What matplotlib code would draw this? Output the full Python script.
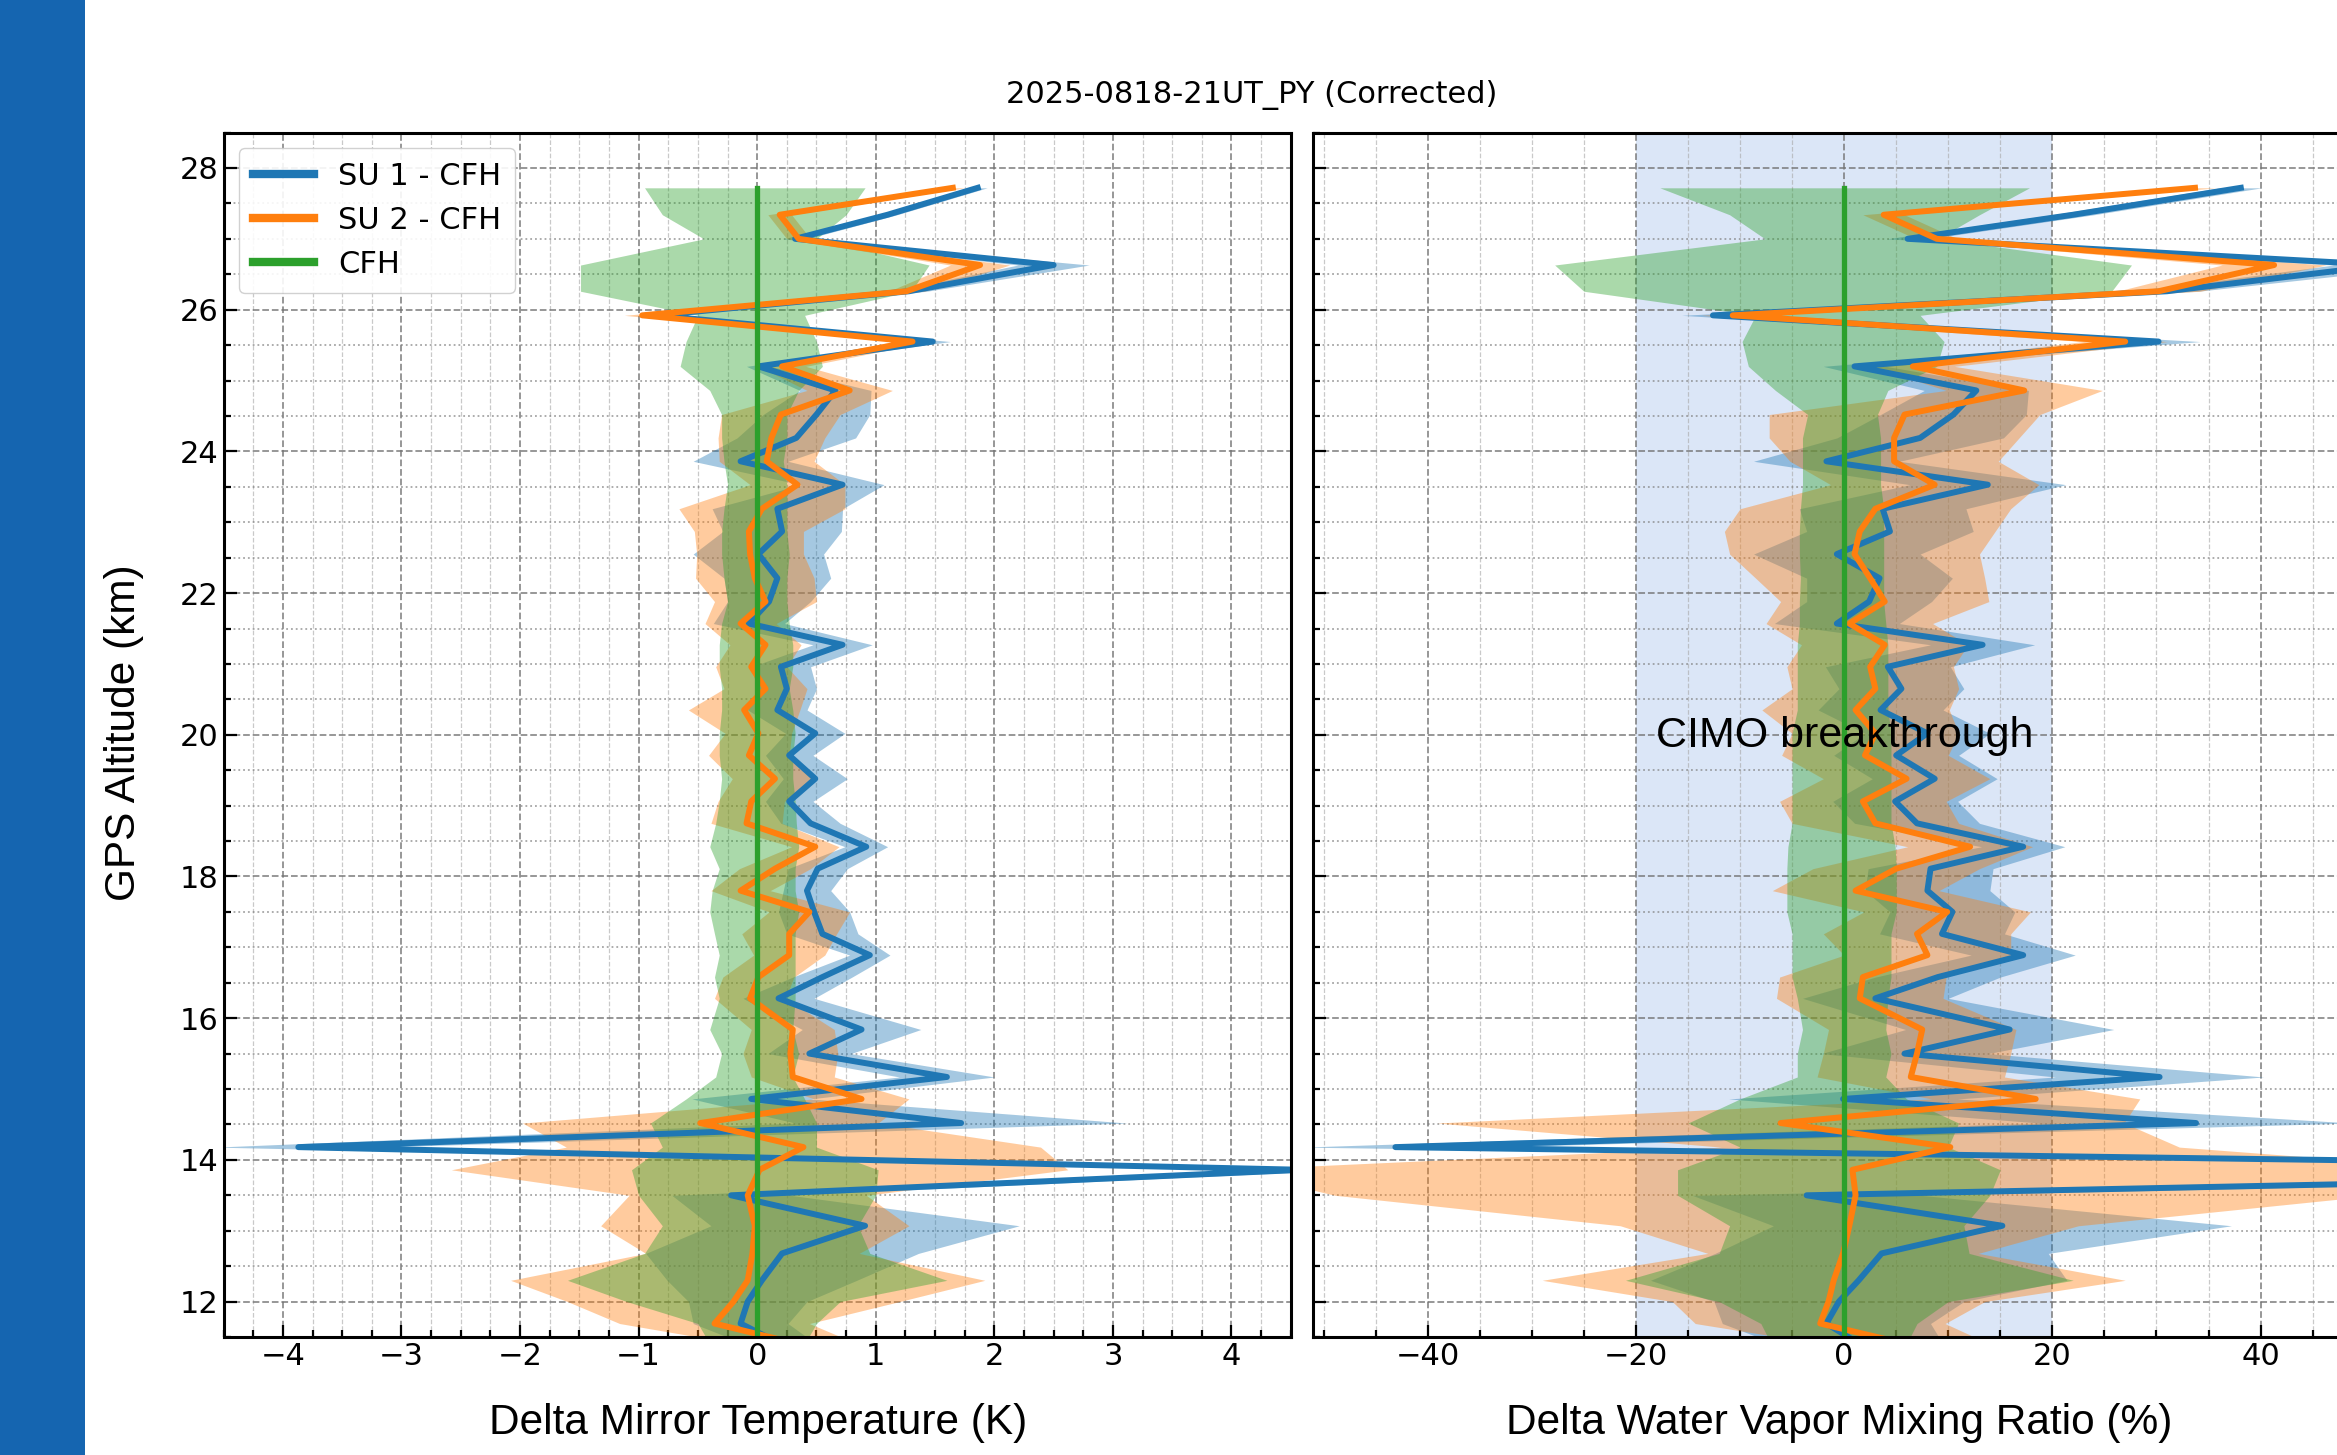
import numpy as np
import matplotlib
matplotlib.use("Agg")
import matplotlib.pyplot as plt
from matplotlib.patches import Rectangle
from matplotlib.ticker import MultipleLocator

# altitude levels (km), top -> bottom
alt = [27.72, 27.34, 27.00, 26.63, 26.26, 25.92, 25.55, 25.20, 24.86, 24.52,
       24.19, 23.86, 23.53, 23.19, 22.87, 22.55, 22.21, 21.88, 21.57, 21.27,
       20.96, 20.65, 20.35, 20.02, 19.71, 19.38, 19.06, 18.75, 18.42, 18.11,
       17.80, 17.50, 17.19, 16.89, 16.58, 16.28, 15.84, 15.50, 15.17, 14.86,
       14.52, 14.18, 13.86, 13.50, 13.07, 12.68, 12.30, 12.00, 11.69, 11.40]

# delta mirror temperature (K)
dt_su1 = [1.86, 1.10, 0.32, 2.50, 1.28, -0.85, 1.48, 0.01, 0.66, 0.50,
          0.33, -0.14, 0.72, 0.17, 0.21, 0.01, 0.17, 0.10, -0.07, 0.72,
          0.20, 0.25, 0.17, 0.49, 0.27, 0.49, 0.27, 0.45, 0.92, 0.51,
          0.42, 0.48, 0.55, 0.95, 0.55, 0.18, 0.88, 0.44, 1.60, -0.05,
          1.72, -3.87, 4.60, -0.22, 0.91, 0.21, 0.04, -0.08, -0.14, 0.20]
dt_su1_err = [0.08, 0.08, 0.10, 0.30, 0.15, 0.10, 0.15, 0.10, 0.30, 0.45,
              0.50, 0.40, 0.35, 0.55, 0.50, 0.55, 0.45, 0.35, 0.30, 0.25,
              0.25, 0.25, 0.25, 0.25, 0.20, 0.27, 0.20, 0.25, 0.18, 0.25,
              0.20, 0.30, 0.30, 0.17, 0.25, 0.30, 0.50, 0.35, 0.40, 0.50,
              1.40, 0.70, 0.40, 0.50, 1.30, 1.15, 0.80, 0.50, 0.40, 0.30]
dt_su2 = [1.65, 0.19, 0.35, 1.88, 1.26, -0.97, 1.31, 0.21, 0.78, 0.20,
          0.12, 0.08, 0.34, 0.04, -0.07, -0.06, -0.02, 0.07, -0.14, 0.07,
          -0.05, 0.07, -0.11, 0.01, -0.07, 0.15, -0.05, -0.09, 0.49, 0.15,
          -0.14, 0.44, 0.27, 0.27, 0.01, -0.06, 0.30, 0.28, 0.30, 0.88,
          -0.48, 0.39, 0.02, -0.08, -0.02, -0.04, -0.08, -0.20, -0.36, 0.35]
dt_su2_err = [0.10, 0.10, 0.10, 0.25, 0.15, 0.15, 0.15, 0.20, 0.36, 0.50,
              0.45, 0.40, 0.40, 0.70, 0.46, 0.45, 0.50, 0.43, 0.30, 0.30,
              0.30, 0.35, 0.47, 0.28, 0.34, 0.36, 0.28, 0.30, 0.20, 0.30,
              0.25, 0.34, 0.40, 0.30, 0.30, 0.30, 0.35, 0.40, 0.35, 0.40,
              1.50, 2.00, 2.60, 1.00, 1.30, 0.90, 2.00, 1.40, 0.80, 0.50]
dt_cfh_lo = [-0.95, -0.80, -0.45, -1.49, -1.49, -0.50, -0.60, -0.65, -0.40, -0.30,
             -0.30, -0.28, -0.25, -0.28, -0.30, -0.30, -0.28, -0.25, -0.30, -0.32,
             -0.32, -0.30, -0.30, -0.32, -0.32, -0.30, -0.32, -0.35, -0.40, -0.32,
             -0.38, -0.40, -0.36, -0.32, -0.36, -0.32, -0.40, -0.30, -0.35, -0.60,
             -0.90, -0.80, -1.06, -1.00, -0.80, -0.95, -1.60, -1.10, -0.50, -0.40]
dt_cfh_hi = [0.91, 0.75, 0.50, 1.45, 1.30, 0.40, 0.50, 0.55, 0.35, 0.25,
             0.25, 0.22, 0.25, 0.25, 0.25, 0.27, 0.25, 0.25, 0.27, 0.30,
             0.30, 0.27, 0.30, 0.32, 0.30, 0.30, 0.32, 0.33, 0.35, 0.32,
             0.32, 0.35, 0.32, 0.32, 0.32, 0.32, 0.30, 0.35, 0.30, 0.40,
             0.50, 0.50, 1.02, 1.00, 0.85, 0.95, 1.60, 0.70, 0.50, 0.40]

# delta water vapour mixing ratio (%)
dw_su1 = [38.1, 22.0, 6.1, 52.0, 31.0, -12.6, 30.2, 1.0, 12.7, 10.5,
          7.3, -1.7, 13.8, 3.7, 4.4, -0.7, 3.4, 2.4, -0.7, 13.3,
          4.2, 5.5, 3.5, 8.0, 5.0, 8.7, 4.9, 7.0, 17.2, 8.3,
          8.0, 10.4, 9.4, 17.2, 9.0, 3.0, 15.9, 5.8, 30.3, -0.1,
          33.8, -43.1, 115.0, -3.6, 15.2, 3.6, 1.4, -0.5, -1.7, 1.5]
dw_su1_err = [2, 2, 2, 5, 3, 3, 4, 3, 5, 7,
              8, 7, 7.5, 8, 8, 8, 7, 6, 6, 5,
              6, 6, 6, 6, 6, 6, 6, 6, 4, 6,
              6, 6, 6, 5, 6, 7, 10, 8, 10, 11,
              15, 9, 10, 11, 22, 16, 20, 12, 10, 8]
dw_su2 = [33.7, 3.8, 8.9, 41.3, 30.2, -10.7, 27.0, 6.6, 17.3, 5.8,
          4.8, 4.8, 8.7, 3.0, 1.5, 1.0, 2.5, 3.9, 0.5, 3.9,
          2.5, 3.0, 1.1, 3.0, 2.0, 6.0, 1.8, 3.0, 12.1, 5.0,
          1.1, 9.9, 7.0, 8.0, 1.8, 1.5, 7.5, 7.0, 6.4, 18.4,
          -6.1, 10.2, 0.8, 1.1, 0.5, -0.1, -1.0, -1.5, -2.3, 6.0]
dw_su2_err = [2, 2, 2, 5, 4, 3, 4, 4, 7.5, 13,
              12, 10, 10, 13, 13, 12, 11, 10, 8, 8,
              8, 8, 9, 8, 8, 8, 8, 8, 6, 8,
              8, 8, 9, 8, 8, 8, 9, 9, 9, 10,
              33, 22, 60, 50, 22, 13, 28, 15, 12, 8]
dw_cfh_lo = [-17.7, -11.0, -7.6, -27.8, -25.0, -8.5, -9.8, -9.2, -6.6, -3.5,
             -4.0, -4.0, -4.0, -4.2, -4.3, -4.3, -4.2, -4.3, -4.3, -4.5,
             -4.5, -4.5, -4.5, -5.0, -5.0, -5.0, -5.0, -5.0, -5.4, -5.5,
             -5.5, -5.5, -5.0, -5.0, -5.0, -4.5, -4.0, -4.5, -4.5, -10.0,
             -15.0, -10.0, -16.0, -16.0, -11.0, -12.0, -21.0, -12.0, -8.0, -7.0]
dw_cfh_hi = [17.8, 13.0, 9.0, 27.6, 25.7, 7.3, 9.6, 8.9, 4.2, 3.2,
             3.5, 3.5, 3.5, 3.8, 3.8, 3.8, 3.8, 3.8, 4.0, 4.2,
             4.2, 4.2, 4.2, 4.5, 4.5, 4.5, 4.5, 4.5, 4.9, 5.0,
             5.0, 5.0, 4.5, 4.5, 4.5, 4.2, 4.0, 4.5, 4.0, 6.0,
             11.0, 10.0, 15.0, 14.0, 11.5, 12.0, 22.0, 10.0, 7.0, 6.0]

title = "2025-0818-21UT_PY (Corrected)"
labels = ["SU 1 - CFH", "SU 2 - CFH", "CFH"]


def draw_panel(ax, su1, su1_err, su2, su2_err, cfh_lo, cfh_hi):
    a = np.array(alt)
    s1, e1 = np.array(su1), np.array(su1_err)
    s2, e2 = np.array(su2), np.array(su2_err)
    ax.fill_betweenx(a, s1 - e1, s1 + e1, color="tab:blue", alpha=0.4, lw=0)
    ax.fill_betweenx(a, s2 - e2, s2 + e2, color="tab:orange", alpha=0.4, lw=0)
    ax.fill_betweenx(a, cfh_lo, cfh_hi, color="tab:green", alpha=0.4, lw=0)
    ax.plot(s1, a, color="tab:blue", lw=4.3, label=labels[0])
    ax.plot(s2, a, color="tab:orange", lw=4.3, label=labels[1])
    ax.plot(np.zeros(len(a)), a, color="tab:green", lw=3.8, label=labels[2])


def style_axes(ax, xmaj, xmin):
    ax.set_ylim(11.5, 28.5)
    ax.xaxis.set_major_locator(MultipleLocator(xmaj))
    ax.xaxis.set_minor_locator(MultipleLocator(xmin))
    ax.yaxis.set_major_locator(MultipleLocator(2))
    ax.yaxis.set_minor_locator(MultipleLocator(0.5))
    ax.set_axisbelow(True)
    ax.grid(which="major", ls="--", color="0.45", lw=1.3, alpha=0.8)
    ax.grid(which="minor", axis="x", ls="--", color="0.65", lw=0.9, alpha=0.6)
    ax.grid(which="minor", axis="y", ls=":", color="0.5", lw=1.3, alpha=0.7)
    ax.tick_params(which="both", direction="in", labelsize=22, width=1.6)
    ax.tick_params(which="major", length=9)
    ax.tick_params(which="minor", length=5)
    for sp in ax.spines.values():
        sp.set_linewidth(2.2)


fig = plt.figure(figsize=(23.37, 14.55), dpi=100)
fig.add_artist(Rectangle((0, 0), 0.0364, 1, transform=fig.transFigure,
                         color="#1565b0", lw=0))

ax1 = fig.add_axes([0.0957, 0.0811, 0.4566, 0.8278])
draw_panel(ax1, dt_su1, dt_su1_err, dt_su2, dt_su2_err, dt_cfh_lo, dt_cfh_hi)
ax1.set_xlim(-4.5, 4.5)
style_axes(ax1, 1, 0.25)
leg = ax1.legend(loc="upper left", fontsize=22, framealpha=0.9,
                 borderpad=0.45, handlelength=2.0, labelspacing=0.5)
for ln in leg.get_lines():
    ln.set_linewidth(6)

ax2 = fig.add_axes([0.5619, 0.0811, 0.4544, 0.8278])
ax2.axvspan(-20, 20, color="#dbe6f7", zorder=0, lw=0)
draw_panel(ax2, dw_su1, dw_su1_err, dw_su2, dw_su2_err, dw_cfh_lo, dw_cfh_hi)
ax2.set_xlim(-51, 51)
style_axes(ax2, 20, 5)
ax2.set_yticklabels([])

fig.text(0.5357, 0.935, title, ha="center", va="center", fontsize=22)
fig.text(0.3246, 0.022, "Delta Mirror Temperature (K)", ha="center",
         va="center", fontsize=30.5, family="Liberation Sans")
fig.text(0.787, 0.022, "Delta Water Vapor Mixing Ratio (%)", ha="center",
         va="center", fontsize=30.5, family="Liberation Sans")
fig.text(0.0529, 0.4962, "GPS Altitude (km)", ha="center", va="center",
         rotation=90, fontsize=30.5, family="Liberation Sans")
fig.text(0.7895, 0.4942, "CIMO breakthrough", ha="center", va="center",
         fontsize=31, family="Liberation Sans")

fig.savefig("out.png", dpi=100)
